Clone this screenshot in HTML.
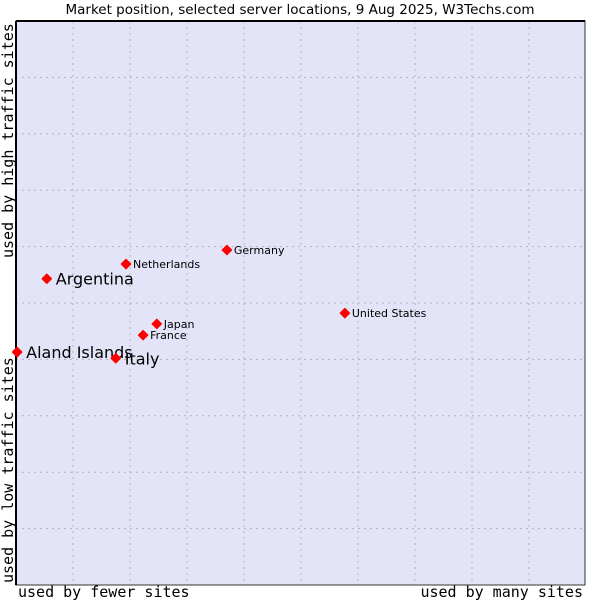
<!DOCTYPE html>
<html><head><meta charset="utf-8"><style>
body{margin:0;background:#fff;width:600px;height:600px;overflow:hidden}
svg{display:block}
</style></head><body>
<svg id="chart" width="600" height="600" xmlns="http://www.w3.org/2000/svg">
<text x="300" y="14" text-anchor="middle" font-family="DejaVu Sans, sans-serif" font-size="13.5" fill="#000">Market position, selected server locations, 9 Aug 2025, W3Techs.com</text>
<rect x="16" y="21" width="569" height="564" fill="#e3e4f8" stroke="#333" stroke-width="1"/>
<g id="grid"></g>
<line x1="16" y1="21" x2="16" y2="585" stroke="#000" stroke-width="2"/>
<line x1="16" y1="21" x2="585" y2="21" stroke="#000" stroke-width="2"/>
<g id="points"></g>
<text x="18" y="597" font-family="DejaVu Sans Mono, Liberation Mono, monospace" font-size="15">used by fewer sites</text>
<text x="583" y="597" text-anchor="end" font-family="DejaVu Sans Mono, Liberation Mono, monospace" font-size="15">used by many sites</text>
<text transform="translate(13,583) rotate(-90)" font-family="DejaVu Sans Mono, Liberation Mono, monospace" font-size="15">used by low traffic sites</text>
<text transform="translate(13,258) rotate(-90)" font-family="DejaVu Sans Mono, Liberation Mono, monospace" font-size="15">used by high traffic sites</text>
</svg>
<script>
const countries=["Aland Islands","Argentina","Netherlands","Germany","United States","Japan","France","Italy"];
const xValues=[0.2,5.4,19.3,37.0,57.7,24.7,22.3,17.5];
const yValues=[41.3,54.3,56.9,59.4,48.2,46.3,44.3,40.2];
const highlighted=[true,true,false,false,false,false,false,true];
const NS="http://www.w3.org/2000/svg";
const L=16,R=586,T=21,B=585;
const xs=v=>L+(R-L)*v/100;
const ys=v=>B-(B-T)*v/100;
const grid=document.getElementById('grid');
for(let i=1;i<10;i++){
  const v=document.createElementNS(NS,'line');
  v.setAttribute('x1',xs(i*10));v.setAttribute('x2',xs(i*10));v.setAttribute('y1',T);v.setAttribute('y2',B);
  v.setAttribute('stroke','#b4b4b4');v.setAttribute('stroke-dasharray','2,4');
  
  
  grid.appendChild(v);
  const h=document.createElementNS(NS,'line');
  h.setAttribute('y1',ys(i*10));h.setAttribute('y2',ys(i*10));h.setAttribute('x1',L);h.setAttribute('x2',R);
  h.setAttribute('stroke','#b4b4b4');h.setAttribute('stroke-dasharray','2,4');
  
  
  grid.appendChild(h);
}
const pts=document.getElementById('points');
countries.forEach((c,i)=>{
  const x=xs(xValues[i]),y=ys(yValues[i]);
  const g=document.createElementNS(NS,'g');
  
  
  const d=document.createElementNS(NS,'path');
  d.setAttribute('d',`M${x-4.5},${y} L${x},${y-4.5} L${x+4.5},${y} L${x},${y+4.5} Z`);
  d.setAttribute('fill','#f00');d.setAttribute('stroke','#f00');d.setAttribute('stroke-width','1.5');d.setAttribute('stroke-linejoin','round');
  
  
  g.appendChild(d);
  const t=document.createElementNS(NS,'text');
  const big=highlighted[i];
  t.setAttribute('x',x+(big?9:7));t.setAttribute('y',y+(big?6:4));
  t.setAttribute('font-family','DejaVu Sans, sans-serif');
  t.setAttribute('font-size',big?16:11);
  t.textContent=c;
  
  
  g.appendChild(t);
  pts.appendChild(g);
});
</script>
</body></html>
